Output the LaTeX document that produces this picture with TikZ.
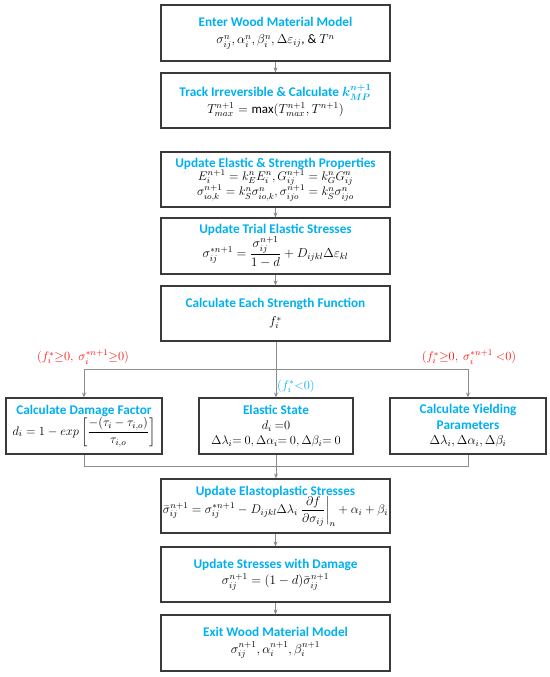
\RequirePackage{fix-cm}
\documentclass[tikz,border=0pt]{standalone}
\usepackage{amsmath}
\usepackage{fontspec}
\setmainfont{Carlito}
\usetikzlibrary{arrows.meta,calc}
\definecolor{ttl}{HTML}{00B0F0}
\definecolor{conn}{HTML}{8C8C8C}
\definecolor{bord}{HTML}{3A3A3A}
\definecolor{redl}{HTML}{FF1010}
\tikzset{
  box/.style={draw=bord, line width=1.2pt, rectangle, inner sep=0pt, align=center, font=\fontsize{13}{15.5}\selectfont},
  wire/.style={draw=conn, line width=1pt},
  arr/.style={wire, -{Stealth[length=5pt,width=4pt]}},
  lbl/.style={font=\fontsize{12.5}{14}\selectfont, inner sep=0pt}
}
\newcommand{\ttlx}[1]{{\fontsize{13.3}{15}\selectfont\bfseries\boldmath\color{ttl}#1}}
\begin{document}
\begin{tikzpicture}[x=1bp,y=-1bp]
\useasboundingbox (0,0) rectangle (550,677);
\node[box, minimum width=229bp, minimum height=56bp] (b1) at (275.5,33)
  {\ttlx{Enter Wood Material Model}\\[2pt] $\sigma_{ij}^{n}, \alpha_i^{n}, \beta_i^{n}, \Delta\varepsilon_{ij}$, \& $T^{n}$};
\node[box, minimum width=229bp, minimum height=55bp] (b2) at (275.5,100.5)
  {\ttlx{Track Irreversible \& Calculate $k_{MP}^{n+1}$}\\[1pt] $T_{max}^{n+1} = \max(T_{max}^{n+1}, T^{n+1})$};
\node[box, minimum width=229bp, minimum height=55bp, font=\fontsize{12.5}{15}\selectfont] (b3) at (275.5,179.5)
  {\ttlx{Update Elastic \& Strength Properties}\\[-1.5pt] $E_i^{n+1} = k_E^{n} E_i^{n}, G_{ij}^{n+1} = k_G^{n} G_{ij}^{n}$\\[-1.5pt] $\sigma_{io,k}^{n+1} = k_S^{n} \sigma_{io,k}^{n}, \sigma_{ijo}^{n+1} = k_S^{n} \sigma_{ijo}^{n}$};
\node[box, minimum width=229bp, minimum height=56bp] (b4) at (275.5,246)
  {\ttlx{Update Trial Elastic Stresses}\\[0pt] $\sigma_{ij}^{*n+1} = \dfrac{\sigma_{ij}^{n+1}}{1-d} + D_{ijkl}\Delta\varepsilon_{kl}$};
\node[box, minimum width=229bp, minimum height=55bp] (b5) at (275.5,313.5)
  {\ttlx{Calculate Each Strength Function}\\[3pt] $f_i^{*}$};
\node[box, minimum width=156bp, minimum height=56bp, font=\fontsize{12.5}{15}\selectfont] (bl) at (84,426)
  {\ttlx{Calculate Damage Factor}\\[0pt] $d_i = 1 - exp\left[\dfrac{-(\tau_i - \tau_{i,o})}{\tau_{i,o}}\right]$};
\node[box, minimum width=154bp, minimum height=56bp, font=\fontsize{12.5}{15}\selectfont] (bm) at (276,426)
  {\ttlx{Elastic State}\\ $d_i\ {=}0$\\ $\Delta\lambda_i{=}\ 0, \Delta\alpha_i{=}\ 0, \Delta\beta_i{=}\ 0$};
\node[box, minimum width=156bp, minimum height=56bp] (br) at (468,426)
  {\ttlx{Calculate Yielding}\\ \ttlx{Parameters}\\ $\Delta\lambda_i, \Delta\alpha_i, \Delta\beta_i$};
\node[box, minimum width=229bp, minimum height=54bp, font=\fontsize{12.6}{15}\selectfont] (b6) at (275.5,506)
  {\ttlx{Update Elastoplastic Stresses}\\[-2pt] $\bar{\sigma}_{ij}^{n+1} = \sigma_{ij}^{*n+1} - D_{ijkl}\Delta\lambda_i \left.\dfrac{\partial f}{\partial \sigma_{ij}}\right|_{n} + \alpha_i + \beta_i$};
\node[box, minimum width=229bp, minimum height=55bp] (b7) at (275.5,574.5)
  {\ttlx{Update Stresses with Damage}\\[1pt] $\sigma_{ij}^{n+1} = (1-d)\bar{\sigma}_{ij}^{n+1}$};
\node[box, minimum width=229bp, minimum height=56bp] (b8) at (275.5,643)
  {\ttlx{Exit Wood Material Model}\\[1pt] $\sigma_{ij}^{n+1}, \alpha_i^{n+1}, \beta_i^{n+1}$};
% connectors
\draw[arr] (b1) -- (b2);
\draw[arr] (b3) -- (b4);
\draw[arr] (b4) -- (b5);
\coordinate (jt) at (276,369);
\coordinate (tl) at (bl.north |- jt);
\coordinate (tr) at (br.north |- jt);
\draw[arr] (b5.south -| bm.north) -- (bm.north);
\draw[wire] (tl) -- (tr);
\draw[arr] (tl) -- (bl.north);
\draw[arr] (tr) -- (br.north);
\coordinate (jb) at (276,466);
\coordinate (ul) at (bl.south |- jb);
\coordinate (ur) at (br.south |- jb);
\draw[wire] (bl.south) -- (ul) -- (ur) -- (br.south);
\draw[arr] (bm.south) -- (bm.south |- b6.north);
\draw[arr] (b6) -- (b7);
\draw[arr] (b7) -- (b8);
% labels
\node[lbl, text=redl] (ll) at (83,357) {$(f_i^{*}{\geq}0,\ \sigma_i^{*n+1}{\geq}0)$};
\node[lbl, text=redl] (lr) at (469,357) {$(f_i^{*}{\geq}0,\ \sigma_i^{*n+1}\ {<}0)$};
\node[lbl, text=ttl, anchor=west] (lm) at (277,386) {$(f_i^{*}{<}0)$};
\end{tikzpicture}
\end{document}
